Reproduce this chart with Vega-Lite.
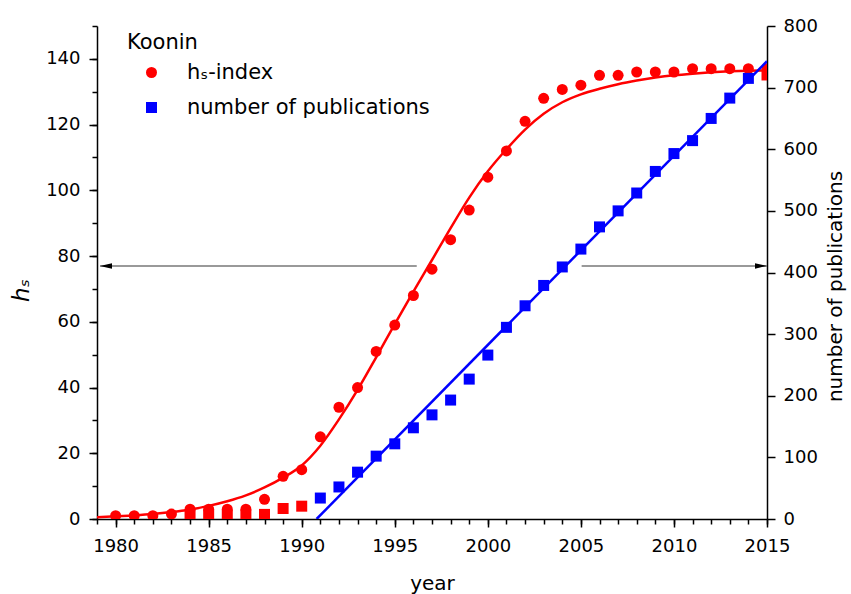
{
  "$schema": "https://vega.github.io/schema/vega-lite/v6.json",
  "width": 670,
  "height": 493,
  "autosize": "none",
  "padding": {"left": 97, "top": 26, "right": 84, "bottom": 75},
  "background": "white",
  "config": {
    "view": {"stroke": null},
    "font": "DejaVu Sans",
    "axis": {
      "grid": false,
      "domainColor": "black",
      "domainWidth": 1.5,
      "tickColor": "black",
      "tickWidth": 1.5,
      "labelColor": "black",
      "labelFont": "DejaVu Sans",
      "labelFontSize": 18,
      "titleFont": "DejaVu Sans",
      "titleFontSize": 20,
      "titleFontWeight": "normal",
      "titleColor": "black"
    },
    "legend": {
      "titleFont": "DejaVu Sans",
      "titleFontSize": 21,
      "titleFontWeight": "normal",
      "titleColor": "black",
      "labelFont": "DejaVu Sans",
      "labelFontSize": 21,
      "labelColor": "black",
      "labelLimit": 400,
      "symbolSize": 121,
      "symbolOffset": 14,
      "labelOffset": 25,
      "titlePadding": 9,
      "rowPadding": 13,
      "padding": 0,
      "symbolStrokeWidth": 0
    }
  },
  "datasets": {
    "hs": [
      {"year": 1980, "hs": 1, "series": "hₛ-index"},
      {"year": 1981, "hs": 1, "series": "hₛ-index"},
      {"year": 1982, "hs": 1, "series": "hₛ-index"},
      {"year": 1983, "hs": 1.5, "series": "hₛ-index"},
      {"year": 1984, "hs": 3, "series": "hₛ-index"},
      {"year": 1985, "hs": 3, "series": "hₛ-index"},
      {"year": 1986, "hs": 3, "series": "hₛ-index"},
      {"year": 1987, "hs": 3, "series": "hₛ-index"},
      {"year": 1988, "hs": 6, "series": "hₛ-index"},
      {"year": 1989, "hs": 13, "series": "hₛ-index"},
      {"year": 1990, "hs": 15, "series": "hₛ-index"},
      {"year": 1991, "hs": 25, "series": "hₛ-index"},
      {"year": 1992, "hs": 34, "series": "hₛ-index"},
      {"year": 1993, "hs": 40, "series": "hₛ-index"},
      {"year": 1994, "hs": 51, "series": "hₛ-index"},
      {"year": 1995, "hs": 59, "series": "hₛ-index"},
      {"year": 1996, "hs": 68, "series": "hₛ-index"},
      {"year": 1997, "hs": 76, "series": "hₛ-index"},
      {"year": 1998, "hs": 85, "series": "hₛ-index"},
      {"year": 1999, "hs": 94, "series": "hₛ-index"},
      {"year": 2000, "hs": 104, "series": "hₛ-index"},
      {"year": 2001, "hs": 112, "series": "hₛ-index"},
      {"year": 2002, "hs": 121, "series": "hₛ-index"},
      {"year": 2003, "hs": 128, "series": "hₛ-index"},
      {"year": 2004, "hs": 130.7, "series": "hₛ-index"},
      {"year": 2005, "hs": 132, "series": "hₛ-index"},
      {"year": 2006, "hs": 135, "series": "hₛ-index"},
      {"year": 2007, "hs": 135, "series": "hₛ-index"},
      {"year": 2008, "hs": 136, "series": "hₛ-index"},
      {"year": 2009, "hs": 136, "series": "hₛ-index"},
      {"year": 2010, "hs": 136, "series": "hₛ-index"},
      {"year": 2011, "hs": 137, "series": "hₛ-index"},
      {"year": 2012, "hs": 137, "series": "hₛ-index"},
      {"year": 2013, "hs": 137, "series": "hₛ-index"},
      {"year": 2014, "hs": 137, "series": "hₛ-index"},
      {"year": 2015, "hs": 137, "series": "hₛ-index"}
    ],
    "hsfit": [
      {"year": 1979, "hs": 0.5}, {"year": 1980, "hs": 0.8}, {"year": 1981, "hs": 1.1},
      {"year": 1982, "hs": 1.5}, {"year": 1983, "hs": 2.1}, {"year": 1984, "hs": 2.9},
      {"year": 1985, "hs": 4.0}, {"year": 1986, "hs": 5.4}, {"year": 1987, "hs": 7.2},
      {"year": 1988, "hs": 9.6}, {"year": 1989, "hs": 12.6}, {"year": 1990, "hs": 16.3},
      {"year": 1991, "hs": 22.3}, {"year": 1992, "hs": 30.3}, {"year": 1993, "hs": 39.3},
      {"year": 1994, "hs": 49.2}, {"year": 1995, "hs": 59.3}, {"year": 1996, "hs": 69.2},
      {"year": 1997, "hs": 78.8}, {"year": 1998, "hs": 88.5}, {"year": 1999, "hs": 97.8},
      {"year": 2000, "hs": 105.8}, {"year": 2001, "hs": 112.5}, {"year": 2002, "hs": 118.5},
      {"year": 2003, "hs": 123.3}, {"year": 2004, "hs": 126.8}, {"year": 2005, "hs": 129.2},
      {"year": 2006, "hs": 130.9}, {"year": 2007, "hs": 132.3}, {"year": 2008, "hs": 133.4},
      {"year": 2009, "hs": 134.3}, {"year": 2010, "hs": 135.0}, {"year": 2011, "hs": 135.5},
      {"year": 2012, "hs": 135.9}, {"year": 2013, "hs": 136.2}, {"year": 2014, "hs": 136.4},
      {"year": 2015, "hs": 136.5}
    ],
    "redsq": [
      {"year": 1984, "hs": 1.2}, {"year": 1985, "hs": 1.2}, {"year": 1986, "hs": 1.2},
      {"year": 1987, "hs": 1.2}, {"year": 1988, "hs": 1.4}, {"year": 1989, "hs": 3.2},
      {"year": 1990, "hs": 3.9}, {"year": 2015, "hs": 135.1}
    ],
    "pubs": [
      {"year": 1991, "pubs": 34, "series": "number of publications"},
      {"year": 1992, "pubs": 52, "series": "number of publications"},
      {"year": 1993, "pubs": 76, "series": "number of publications"},
      {"year": 1994, "pubs": 102, "series": "number of publications"},
      {"year": 1995, "pubs": 122, "series": "number of publications"},
      {"year": 1996, "pubs": 148, "series": "number of publications"},
      {"year": 1997, "pubs": 169, "series": "number of publications"},
      {"year": 1998, "pubs": 193, "series": "number of publications"},
      {"year": 1999, "pubs": 227, "series": "number of publications"},
      {"year": 2000, "pubs": 266, "series": "number of publications"},
      {"year": 2001, "pubs": 311, "series": "number of publications"},
      {"year": 2002, "pubs": 346, "series": "number of publications"},
      {"year": 2003, "pubs": 379, "series": "number of publications"},
      {"year": 2004, "pubs": 409, "series": "number of publications"},
      {"year": 2005, "pubs": 438, "series": "number of publications"},
      {"year": 2006, "pubs": 474, "series": "number of publications"},
      {"year": 2007, "pubs": 500, "series": "number of publications"},
      {"year": 2008, "pubs": 529, "series": "number of publications"},
      {"year": 2009, "pubs": 564, "series": "number of publications"},
      {"year": 2010, "pubs": 593, "series": "number of publications"},
      {"year": 2011, "pubs": 614, "series": "number of publications"},
      {"year": 2012, "pubs": 650, "series": "number of publications"},
      {"year": 2013, "pubs": 683, "series": "number of publications"},
      {"year": 2014, "pubs": 715, "series": "number of publications"}
    ],
    "pubfit": [
      {"year": 1990.8, "pubs": 0},
      {"year": 2015, "pubs": 743}
    ],
    "arrows": [
      {"from": 1979.16, "to": 1996.18, "hs": 77},
      {"from": 2005.04, "to": 2015, "hs": 77}
    ],
    "headLeft": [{"year": 1979.16, "hs": 77}],
    "headRight": [{"year": 2015, "hs": 77}]
  },
  "layer": [
    {
      "data": {"name": "hsfit"},
      "mark": {"type": "line", "color": "#ff0000", "strokeWidth": 2.5, "interpolate": "monotone", "clip": true},
      "encoding": {
        "x": {
          "field": "year", "type": "quantitative",
          "scale": {"domain": [1979, 2015], "nice": false, "zero": false},
          "axis": {
            "orient": "bottom",
            "values": [1980, 1985, 1990, 1995, 2000, 2005, 2010, 2015],
            "format": "d",
            "tickSize": 8,
            "labelPadding": 10,
            "labelFlush": false,
            "title": "year",
            "titlePadding": 18
          }
        },
        "y": {
          "field": "hs", "type": "quantitative",
          "scale": {"domain": [0, 150], "nice": false},
          "axis": {
            "orient": "left",
            "values": [0, 20, 40, 60, 80, 100, 120, 140],
            "tickSize": 8,
            "labelPadding": 9,
            "title": "hₛ",
            "titleFontStyle": "italic",
            "titleFontSize": 23,
            "titlePadding": 12,
            "titleY": 264
          }
        }
      }
    },
    {
      "data": {"name": "hs"},
      "mark": {"type": "point", "filled": true, "opacity": 1, "size": 121, "clip": true},
      "encoding": {
        "x": {"field": "year", "type": "quantitative", "scale": {"domain": [1979, 2015], "nice": false, "zero": false}, "axis": null},
        "y": {
          "field": "hs", "type": "quantitative",
          "scale": {"domain": [0, 150], "nice": false},
          "axis": {
            "orient": "left",
            "values": [0, 10, 20, 30, 40, 50, 60, 70, 80, 90, 100, 110, 120, 130, 140, 150],
            "tickSize": 5,
            "labels": false,
            "domain": false,
            "title": null
          }
        },
        "color": {
          "field": "series", "type": "nominal",
          "scale": {"domain": ["hₛ-index", "number of publications"], "range": ["#ff0000", "#0000ff"]},
          "legend": {"title": "Koonin", "orient": "none", "legendX": 30, "legendY": 6}
        },
        "shape": {
          "field": "series", "type": "nominal",
          "scale": {"domain": ["hₛ-index", "number of publications"], "range": ["circle", "square"]},
          "legend": {"title": "Koonin", "orient": "none", "legendX": 30, "legendY": 6}
        }
      }
    },
    {
      "data": {"name": "redsq"},
      "mark": {"type": "point", "filled": true, "opacity": 1, "size": 121, "shape": "square", "color": "#ff0000", "clip": true},
      "encoding": {
        "x": {"field": "year", "type": "quantitative", "scale": {"domain": [1979, 2015], "nice": false, "zero": false}, "axis": null},
        "y": {"field": "hs", "type": "quantitative", "scale": {"domain": [0, 150], "nice": false}, "axis": null}
      }
    },
    {
      "data": {"name": "arrows"},
      "mark": {"type": "rule", "color": "#777777", "strokeWidth": 1.5},
      "encoding": {
        "x": {"field": "from", "type": "quantitative", "scale": {"domain": [1979, 2015], "nice": false, "zero": false}, "axis": null},
        "x2": {"field": "to"},
        "y": {"field": "hs", "type": "quantitative", "scale": {"domain": [0, 150], "nice": false}, "axis": null}
      }
    },
    {
      "data": {"name": "headLeft"},
      "mark": {"type": "point", "filled": true, "opacity": 1, "size": 144, "shape": "M0,0L2,-0.45L2,0.45Z", "color": "black"},
      "encoding": {
        "x": {"field": "year", "type": "quantitative", "scale": {"domain": [1979, 2015], "nice": false, "zero": false}, "axis": null},
        "y": {"field": "hs", "type": "quantitative", "scale": {"domain": [0, 150], "nice": false}, "axis": null}
      }
    },
    {
      "data": {"name": "headRight"},
      "mark": {"type": "point", "filled": true, "opacity": 1, "size": 144, "shape": "M0,0L-2,-0.45L-2,0.45Z", "color": "black"},
      "encoding": {
        "x": {"field": "year", "type": "quantitative", "scale": {"domain": [1979, 2015], "nice": false, "zero": false}, "axis": null},
        "y": {"field": "hs", "type": "quantitative", "scale": {"domain": [0, 150], "nice": false}, "axis": null}
      }
    },
    {
      "data": {"name": "pubfit"},
      "mark": {"type": "line", "color": "#0000ff", "strokeWidth": 2.5, "clip": true},
      "encoding": {
        "x": {
          "field": "year", "type": "quantitative",
          "scale": {"domain": [1979, 2015], "nice": false, "zero": false},
          "axis": {
            "orient": "bottom",
            "values": [1979, 1980, 1981, 1982, 1983, 1984, 1985, 1986, 1987, 1988, 1989, 1990, 1991, 1992, 1993, 1994, 1995, 1996, 1997, 1998, 1999, 2000, 2001, 2002, 2003, 2004, 2005, 2006, 2007, 2008, 2009, 2010, 2011, 2012, 2013, 2014, 2015],
            "tickSize": 5,
            "labels": false,
            "domain": false,
            "title": null
          }
        },
        "y": {
          "field": "pubs", "type": "quantitative",
          "scale": {"domain": [0, 800], "nice": false},
          "axis": {
            "orient": "right",
            "values": [0, 100, 200, 300, 400, 500, 600, 700, 800],
            "tickSize": 8,
            "labelPadding": 8,
            "title": "number of publications",
            "titleAngle": 270,
            "titleBaseline": "top",
            "titlePadding": 8,
            "titleY": 260
          }
        }
      }
    },
    {
      "data": {"name": "pubs"},
      "mark": {"type": "point", "filled": true, "opacity": 1, "size": 121, "clip": true},
      "encoding": {
        "x": {"field": "year", "type": "quantitative", "scale": {"domain": [1979, 2015], "nice": false, "zero": false}, "axis": null},
        "y": {"field": "pubs", "type": "quantitative", "scale": {"domain": [0, 800], "nice": false}, "axis": null},
        "color": {
          "field": "series", "type": "nominal",
          "scale": {"domain": ["hₛ-index", "number of publications"], "range": ["#ff0000", "#0000ff"]},
          "legend": {"title": "Koonin", "orient": "none", "legendX": 30, "legendY": 6}
        },
        "shape": {
          "field": "series", "type": "nominal",
          "scale": {"domain": ["hₛ-index", "number of publications"], "range": ["circle", "square"]},
          "legend": {"title": "Koonin", "orient": "none", "legendX": 30, "legendY": 6}
        }
      }
    }
  ],
  "resolve": {"scale": {"y": "independent"}, "axis": {"x": "independent", "y": "independent"}}
}
